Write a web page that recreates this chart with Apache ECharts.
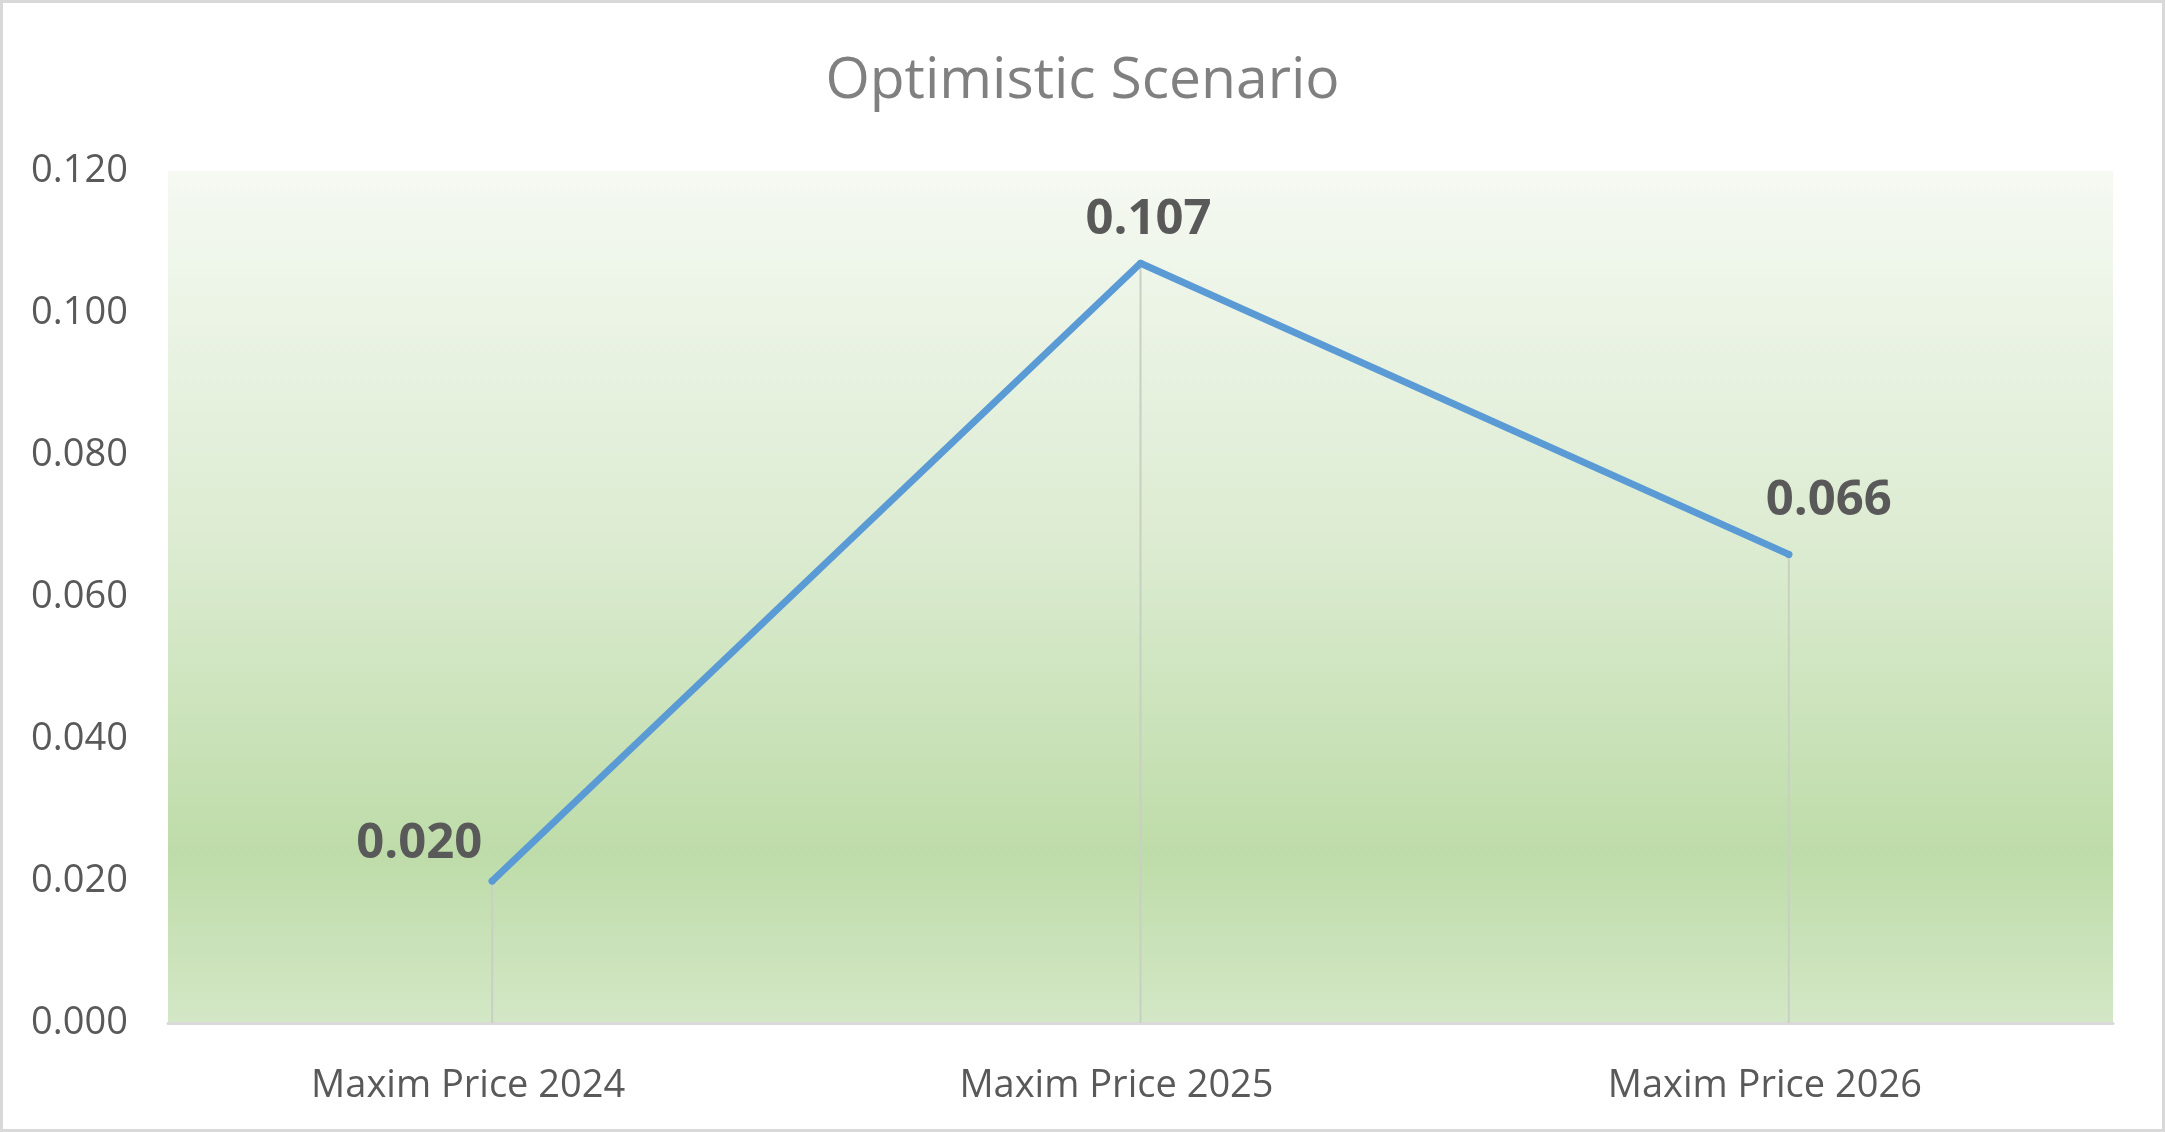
<!DOCTYPE html>
<html>
<head>
<meta charset="utf-8">
<title>Optimistic Scenario</title>
<script src="https://cdn.jsdelivr.net/npm/echarts@6/dist/echarts.min.js"></script>
<style>
  html, body { margin: 0; padding: 0; background: #fff; }
  #myChart { width: 2165px; height: 1132px; }
</style>
</head>
<body>
<div id="myChart"></div>
<script>
// data
const categories = ['Maxim Price 2024', 'Maxim Price 2025', 'Maxim Price 2026']
const prices = [0.020, 0.107, 0.066]
const yTicks = [0, 0.02, 0.04, 0.06, 0.08, 0.1, 0.12]

const FONT = '"Open Sans", "Noto Sans", sans-serif'
// where excel put each value label, relative to its point
const labelOffsets = [[-73, -4], [8, -10], [40, -20]]

const myChart = echarts.init(document.getElementById('myChart'))

myChart.setOption({
  animation: false,
  backgroundColor: '#fff',
  textStyle: { fontFamily: FONT },
  title: {
    text: 'Optimistic Scenario',
    left: 'center',
    top: 48,
    textStyle: {
      color: '#808080',
      fontWeight: 'normal',
      fontSize: 57,
      fontFamily: FONT
    }
  },
  graphic: [{
    type: 'rect',
    shape: { x: 1.5, y: 1.5, width: 2162, height: 1129 },
    style: { fill: null, stroke: '#d9d9d9', lineWidth: 3 },
    silent: true
  }],
  grid: {
    left: 168,
    right: 52,
    top: 171,
    bottom: 109,
    show: true,
    borderWidth: 0,
    backgroundColor: new echarts.graphic.LinearGradient(0, 0, 0, 1, [
      { offset: 0, color: '#f5f9f2' },
      { offset: 0.45, color: '#dbebd0' },
      { offset: 0.8, color: '#bedca9' },
      { offset: 1, color: '#d3e7c6' }
    ])
  },
  xAxis: {
    type: 'category',
    data: categories,
    boundaryGap: true,
    axisLine: { lineStyle: { color: '#d9d9d9', width: 3 } },
    axisTick: { show: false },
    axisLabel: {
      color: '#595959',
      fontSize: 38,
      margin: 44,
      padding: [0, 48, 0, 0],
      fontFamily: FONT
    },
    splitLine: { show: false }
  },
  yAxis: {
    type: 'value',
    min: yTicks[0],
    max: yTicks[yTicks.length - 1],
    interval: yTicks[1] - yTicks[0],
    axisLine: { show: false },
    axisTick: { show: false },
    splitLine: { show: false },
    axisLabel: {
      color: '#595959',
      fontSize: 38,
      margin: 40,
      fontFamily: FONT,
      formatter: (v) => v.toFixed(3)
    }
  },
  series: [
    {
      // drop lines from each point down to the axis
      name: 'drop',
      type: 'bar',
      data: prices,
      barWidth: 2,
      silent: true,
      itemStyle: { color: '#c8d0c2' },
      z: 1
    },
    {
      name: 'Optimistic',
      type: 'line',
      data: prices.map((v, i) => ({
        value: v,
        label: { offset: labelOffsets[i] }
      })),
      symbol: 'circle',
      symbolSize: 7,
      itemStyle: { color: '#5b9bd5' },
      lineStyle: { color: '#5b9bd5', width: 7, cap: 'round', join: 'round' },
      label: {
        show: true,
        position: 'top',
        distance: 5,
        color: '#595959',
        fontWeight: 'bold',
        fontSize: 49,
        fontFamily: FONT,
        formatter: (p) => p.value.toFixed(3)
      },
      z: 3
    }
  ]
})

window.addEventListener('resize', () => myChart.resize())
</script>
</body>
</html>
